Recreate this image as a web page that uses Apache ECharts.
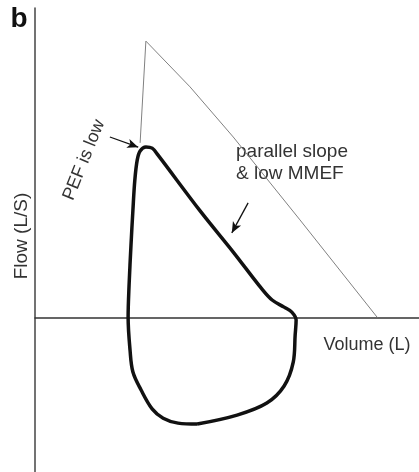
<!DOCTYPE html>
<html>
<head>
<meta charset="utf-8">
<script src="https://cdn.jsdelivr.net/npm/echarts@6/dist/echarts.min.js"></script>
<style>html,body{margin:0;padding:0;background:#fff}#c{width:419px;height:472px}</style>
</head>
<body>
<div id="c"></div>
<script>
// Obstructed loop (thick): volume (L), flow (L/s)
var loopVolume = [3.38,2.98,2.67,2.44,2.21,2.04,1.98,1.94,1.96,2.00,2.04,2.08,2.13,2.19,2.31,2.44,2.56,3.44,4.13,4.73,4.94,5.19,5.35,5.44,5.42,5.38,5.19,4.83,4.21,3.38];
var loopFlow   = [-3.45,-3.42,-3.26,-2.96,-2.35,-1.77,-1.06,0.00,1.04,2.34,3.47,4.44,5.09,5.38,5.51,5.47,5.25,3.44,2.11,0.91,0.56,0.33,0.17,-0.09,-0.57,-1.45,-2.22,-2.77,-3.16,-3.45];
// Normal expiratory curve (thin)
var normVolume = [2.19,2.31,3.23,4.13,5.52,7.13];
var normFlow   = [5.64,8.93,7.45,5.83,3.15,0.00];
// Annotation arrows [fromV, fromF, toV, toF]
var arrowPEF  = [1.56,5.83,2.15,5.50];
var arrowMMEF = [4.44,3.70,4.10,2.73];

function pairs(xs, ys){ return xs.map(function(x,i){ return [x, ys[i]]; }); }
function arrow(a){ return [{coord:[a[0],a[1]]},{coord:[a[2],a[3]]}]; }

var chart = echarts.init(document.getElementById('c'), null, {renderer:'canvas'});
var FONT = '"Liberation Sans", Arial, sans-serif';
chart.setOption({
  animation: false,
  grid: {left:35, right:0, top:8, bottom:0},
  xAxis: {type:'value', min:0, max:8, axisLine:{onZero:true, lineStyle:{color:'#333', width:1.5}},
          axisTick:{show:false}, axisLabel:{show:false}, splitLine:{show:false}},
  yAxis: {type:'value', min:-5, max:10, axisLine:{show:true, onZero:false, lineStyle:{color:'#444', width:1.5}},
          axisTick:{show:false}, axisLabel:{show:false}, splitLine:{show:false}},
  series: [
    {type:'line', data: pairs(normVolume, normFlow), symbol:'none', silent:true,
     lineStyle:{color:'#808080', width:1},
     markLine:{silent:true, symbol:['none','arrow'], symbolSize:[7,11], label:{show:false},
       lineStyle:{color:'#111', width:1.3, type:'solid'},
       data:[arrow(arrowPEF), arrow(arrowMMEF)]}},
    {type:'line', data: pairs(loopVolume, loopFlow), symbol:'none', silent:true, smooth:0.35,
     lineStyle:{color:'#111', width:3.5}}
  ],
  graphic: [
    {type:'text', x:19, y:19, style:{text:'b', font:'bold 28px '+FONT, fill:'#111', textAlign:'center', textVerticalAlign:'middle'}},
    {type:'text', x:22, y:236, rotation:Math.PI/2, style:{text:'Flow (L/S)', font:'19px '+FONT, fill:'#333', textAlign:'center', textVerticalAlign:'middle'}},
    {type:'text', x:367, y:345, style:{text:'Volume (L)', font:'18px '+FONT, fill:'#333', textAlign:'center', textVerticalAlign:'middle'}},
    {type:'text', x:84, y:160, rotation:68*Math.PI/180, style:{text:'PEF is low', font:'18px '+FONT, fill:'#333', textAlign:'center', textVerticalAlign:'middle'}},
    {type:'text', x:236, y:141, style:{text:'parallel slope\n& low MMEF', font:'19px '+FONT, lineHeight:22, fill:'#333', textAlign:'left', textVerticalAlign:'top'}}
  ]
});
</script>
</body>
</html>
